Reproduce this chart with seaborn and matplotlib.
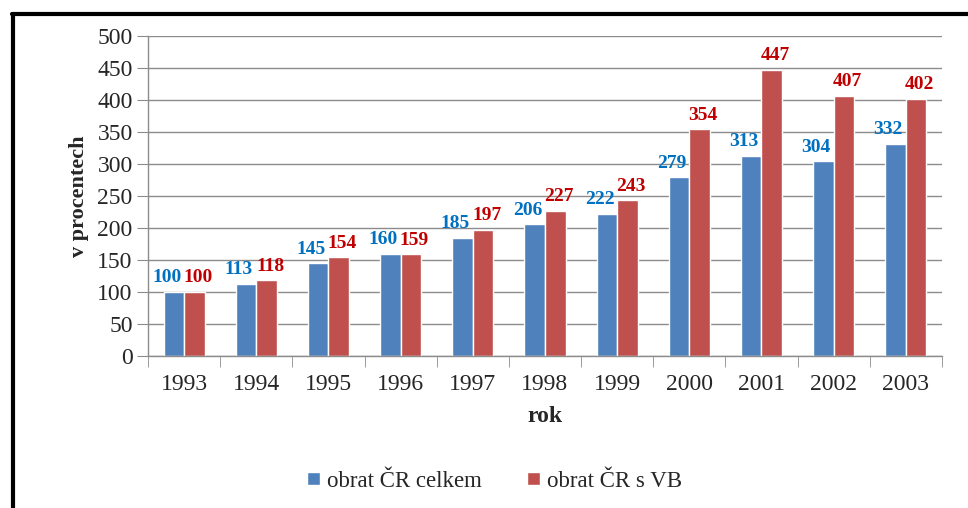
import matplotlib
matplotlib.use("Agg")
import matplotlib.pyplot as plt
from matplotlib.lines import Line2D
from matplotlib.ticker import FixedLocator
import pandas as pd
import seaborn as sns

# data
years = ["1993", "1994", "1995", "1996", "1997", "1998", "1999", "2000", "2001", "2002", "2003"]
obrat_celkem = [100, 113, 145, 160, 185, 206, 222, 279, 313, 304, 332]
obrat_vb = [100, 118, 154, 159, 197, 227, 243, 354, 447, 407, 402]
series_names = ["obrat ČR celkem", "obrat ČR s VB"]

bar_colors = ["#4F81BD", "#C0504D"]
label_colors = ["#0070C0", "#C00000"]

df = pd.DataFrame({
    "rok": years * 2,
    "hodnota": obrat_celkem + obrat_vb,
    "rada": [series_names[0]] * len(years) + [series_names[1]] * len(years),
})

sns.set_style("white")
plt.rcParams["font.family"] = ["Liberation Serif", "DejaVu Serif"]

fig = plt.figure(figsize=(9.68, 5.08), dpi=100)
ax = fig.add_axes([0.1529, 0.2992, 0.8201, 0.6299])

sns.barplot(data=df, x="rok", y="hodnota", hue="rada", palette=bar_colors,
            width=0.57, gap=0, saturation=1, ax=ax, legend=True)

# value labels, nudged outward like in the original
for i, cont in enumerate(ax.containers):
    shift = -0.1 if i == 0 else 0.05
    for bar, val in zip(cont.patches, [obrat_celkem, obrat_vb][i]):
        x = bar.get_x() + bar.get_width() / 2 + shift
        ax.annotate(str(val), (x, bar.get_height()), xytext=(0, 4),
                    textcoords="offset points", ha="center", va="bottom",
                    fontsize=14, fontweight="bold", color=label_colors[i])

ax.set_ylim(0, 500)
ax.set_yticks(range(0, 501, 50))
ax.set_xlim(-0.5, len(years) - 0.5)
ax.yaxis.grid(True, color="#8c8c8c", linewidth=1)
ax.set_axisbelow(True)

for side in ["top", "right"]:
    ax.spines[side].set_visible(False)
for side in ["left", "bottom"]:
    ax.spines[side].set_color("#8c8c8c")
    ax.spines[side].set_linewidth(1)

ax.tick_params(axis="y", length=8, color="#8c8c8c", labelsize=17, pad=3, left=True)
ax.tick_params(axis="x", which="major", length=0, labelsize=17, pad=13)
ax.xaxis.set_minor_locator(FixedLocator([k - 0.5 for k in range(len(years) + 1)]))
ax.tick_params(axis="x", which="minor", length=8, color="#8c8c8c", bottom=True)

ax.set_xlabel("rok", fontsize=17, fontweight="bold", labelpad=8)
ax.set_ylabel("v procentech", fontsize=16, fontweight="bold", labelpad=6)

handles, labels = ax.get_legend_handles_labels()
ax.get_legend().remove()
fig.legend(handles, labels, loc="center", bbox_to_anchor=(0.511, 0.053), ncol=2,
           frameon=False, fontsize=16.5, handlelength=0.55, handleheight=0.55,
           handletextpad=0.3, columnspacing=2.0)

# thick frame around the chart (cut at right and bottom edges)
fig.add_artist(Line2D([0.0135, 0.0135], [0.0, 0.973], transform=fig.transFigure,
                      color="black", linewidth=3))
fig.add_artist(Line2D([0.0125, 1.0], [0.973, 0.973], transform=fig.transFigure,
                      color="black", linewidth=3))

fig.savefig("out.png", dpi=100)
